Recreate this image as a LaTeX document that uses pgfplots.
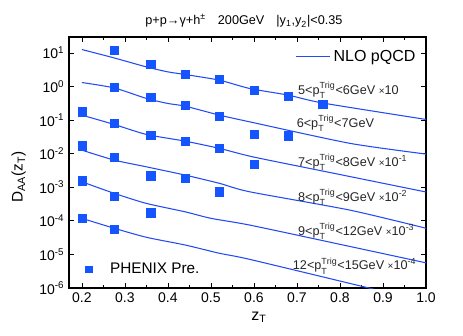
\documentclass[border=0pt]{standalone}
\usepackage{fontspec}
\setmainfont{Liberation Sans}
\usepackage{pgfplots}
\pgfplotsset{compat=1.18}
\definecolor{mk}{RGB}{20,85,255}
\definecolor{ln}{RGB}{35,75,245}
\newcommand{\pt}{p$_{\mathrm{T}}^{\mathrm{Trig}}$}
\newcommand{\tms}{{\fontsize{7.5}{9}\selectfont ×}}
\begin{document}
\begin{tikzpicture}
\useasboundingbox (-51.75pt,-35.25pt) rectangle (295.5pt,216pt);
\begin{axis}[
  scale only axis, width=267.75pt, height=188.25pt,
  ymode=log, log basis y=10,
  xmin=0.17, xmax=1.0, ymin=1e-6, ymax=30,
  xtick={0.2,0.3,0.4,0.5,0.6,0.7,0.8,0.9,1.0}, minor x tick num=1,
  ytick={1e-6,1e-5,1e-4,1e-3,1e-2,1e-1,1,10},
  tick align=inside, major tick length=3.75pt, minor tick length=2.2pt,
  axis line style={line width=0.8pt},
  every tick/.style={black, line width=0.6pt},
  xticklabel style={/pgf/number format/.cd, fixed, fixed zerofill, precision=1, assume math mode=true},
  tick label style={font=\fontsize{10.5}{12}\selectfont},
  log number format basis/.code 2 args={#1\textsuperscript{\pgfmathprintnumber[assume math mode=true]{#2}}},
  xlabel={z\textsubscript{T}},
  xlabel style={at={(axis description cs:0.532,-0.116)}, anchor=center, font=\fontsize{12}{14}\selectfont},
  ylabel={D\textsubscript{AA}(z\textsubscript{T})},
  ylabel style={at={(axis description cs:-0.141,0.442)}, anchor=center, font=\fontsize{11.5}{13}\selectfont},
  title={p+p→γ+h\textsuperscript{±}\hspace{9pt}200GeV\hspace{9pt}|y\textsubscript{1},y\textsubscript{2}|<0.35},
  title style={at={(axis description cs:0.49,1)}, anchor=base, yshift=3pt, inner sep=0pt, font=\fontsize{9.5}{11}\selectfont},
  legend style={at={(0.633,0.921)}, anchor=west, draw=none, fill=none, inner sep=0pt,
    font=\fontsize{12}{14}\selectfont, legend cell align=left},
  legend image code/.code={\draw[#1] (0pt,0pt) -- (26pt,0pt);},
  clip=true,
]
% NLO pQCD curves
\addplot[ln, line width=0.8pt, smooth, tension=0.4] coordinates {
 (0.2,12.7) (0.275,7.14) (0.35,3.85) (0.4,2.74) (0.44,2.29) (0.52,1.55) (0.59,0.877) (0.68,0.555) (0.76,0.324) (1.0,0.105)};
\addlegendentry{NLO pQCD}
\addplot[ln, line width=0.8pt, smooth, tension=0.4, forget plot] coordinates {
 (0.2,1.32) (0.275,0.914) (0.35,0.443) (0.4,0.314) (0.44,0.261) (0.52,0.141) (0.59,0.0891) (0.823,0.0204) (1.0,0.00977)};
\addplot[ln, line width=0.8pt, smooth, tension=0.4, forget plot] coordinates {
 (0.2,0.141) (0.275,0.0745) (0.35,0.0375) (0.44,0.0237) (0.52,0.0144) (0.6,0.00794) (0.8,0.0024) (1.0,7.24e-4)};
\addplot[ln, line width=0.8pt, smooth, tension=0.4, forget plot] coordinates {
 (0.2,0.0128) (0.275,0.00646) (0.35,0.00407) (0.44,0.00231) (0.52,0.00131) (0.59,7.35e-4) (0.823,2.09e-4) (1.0,6.03e-5)};
\addplot[ln, line width=0.8pt, smooth, tension=0.4, forget plot] coordinates {
 (0.2,0.00146) (0.275,6.61e-4) (0.35,3.31e-4) (0.44,1.86e-4) (0.5,1.19e-4) (0.59,7.5e-5) (0.8,2.0e-5) (1.0,5.62e-6)};
\addplot[ln, line width=0.8pt, smooth, tension=0.4, forget plot] coordinates {
 (0.2,1.19e-4) (0.275,6.03e-5) (0.35,3.24e-5) (0.44,1.91e-5) (0.52,1.08e-5) (0.59,7.14e-6) (0.87,9.8e-7) (1.0,3.9e-7)};
% PHENIX data
\addplot[only marks, mark=square*, mark size=3.1pt, color=mk, forget plot] coordinates {
 (0.275,12.1) (0.36,4.64) (0.44,2.34) (0.52,1.66) (0.6,0.78) (0.68,0.52) (0.76,0.29)};
\addplot[only marks, mark=square*, mark size=3.1pt, color=mk, forget plot] coordinates {
 (0.275,0.94) (0.36,0.49) (0.44,0.28) (0.52,0.13) (0.6,0.0375) (0.68,0.034)};
\addplot[only marks, mark=square*, mark size=3.1pt, color=mk, forget plot] coordinates {
 (0.2,0.177) (0.275,0.080) (0.36,0.0358) (0.44,0.0237) (0.52,0.0144) (0.6,0.0049)};
\addplot[only marks, mark=square*, mark size=3.1pt, color=mk, forget plot] coordinates {
 (0.2,0.0172) (0.275,0.0078) (0.36,0.0022) (0.44,0.00184) (0.52,0.00073)};
\addplot[only marks, mark=square*, mark size=3.1pt, color=mk, forget plot] coordinates {
 (0.2,0.00156) (0.275,5.5e-4) (0.36,1.74e-4)};
\addplot[only marks, mark=square*, mark size=3.1pt, color=mk, forget plot] coordinates {
 (0.2,1.19e-4) (0.275,5.7e-5)};
% curve labels
\begin{scope}[every node/.style={anchor=base west, inner sep=0pt, font=\fontsize{9.5}{11}\selectfont, text=black!85}]
\node at (axis cs:0.702,0.582) {5<\pt<6GeV \tms10};
\node at (axis cs:0.699,0.0607) {6<\pt<7GeV};
\node at (axis cs:0.702,0.00407) {7<\pt<8GeV \tms10\textsuperscript{-1}};
\node at (axis cs:0.702,3.72e-4) {8<\pt<9GeV \tms10\textsuperscript{-2}};
\node at (axis cs:0.702,3.63e-5) {9<\pt<12GeV \tms10\textsuperscript{-3}};
\node at (axis cs:0.69,3.44e-6) {12<\pt<15GeV \tms10\textsuperscript{-4}};
\end{scope}
\end{axis}
\begin{axis}[
  scale only axis, width=267.75pt, height=188.25pt,
  hide axis, xmin=0, xmax=1, ymin=0, ymax=1,
  legend style={at={(0.0246,0.0757)}, anchor=west, draw=none, fill=none, inner sep=0pt,
    font=\fontsize{11.5}{13}\selectfont, legend cell align=left},
  legend image code/.code={\draw[#1] plot coordinates {(8pt,0pt)}; \path[draw=none, fill=none] (0pt,-1pt) rectangle (22pt,1pt);},
]
\addlegendimage{only marks, mark=square*, mark size=2.4pt, color=mk}
\addlegendentry{PHENIX Pre.}
\end{axis}
\end{tikzpicture}
\end{document}
